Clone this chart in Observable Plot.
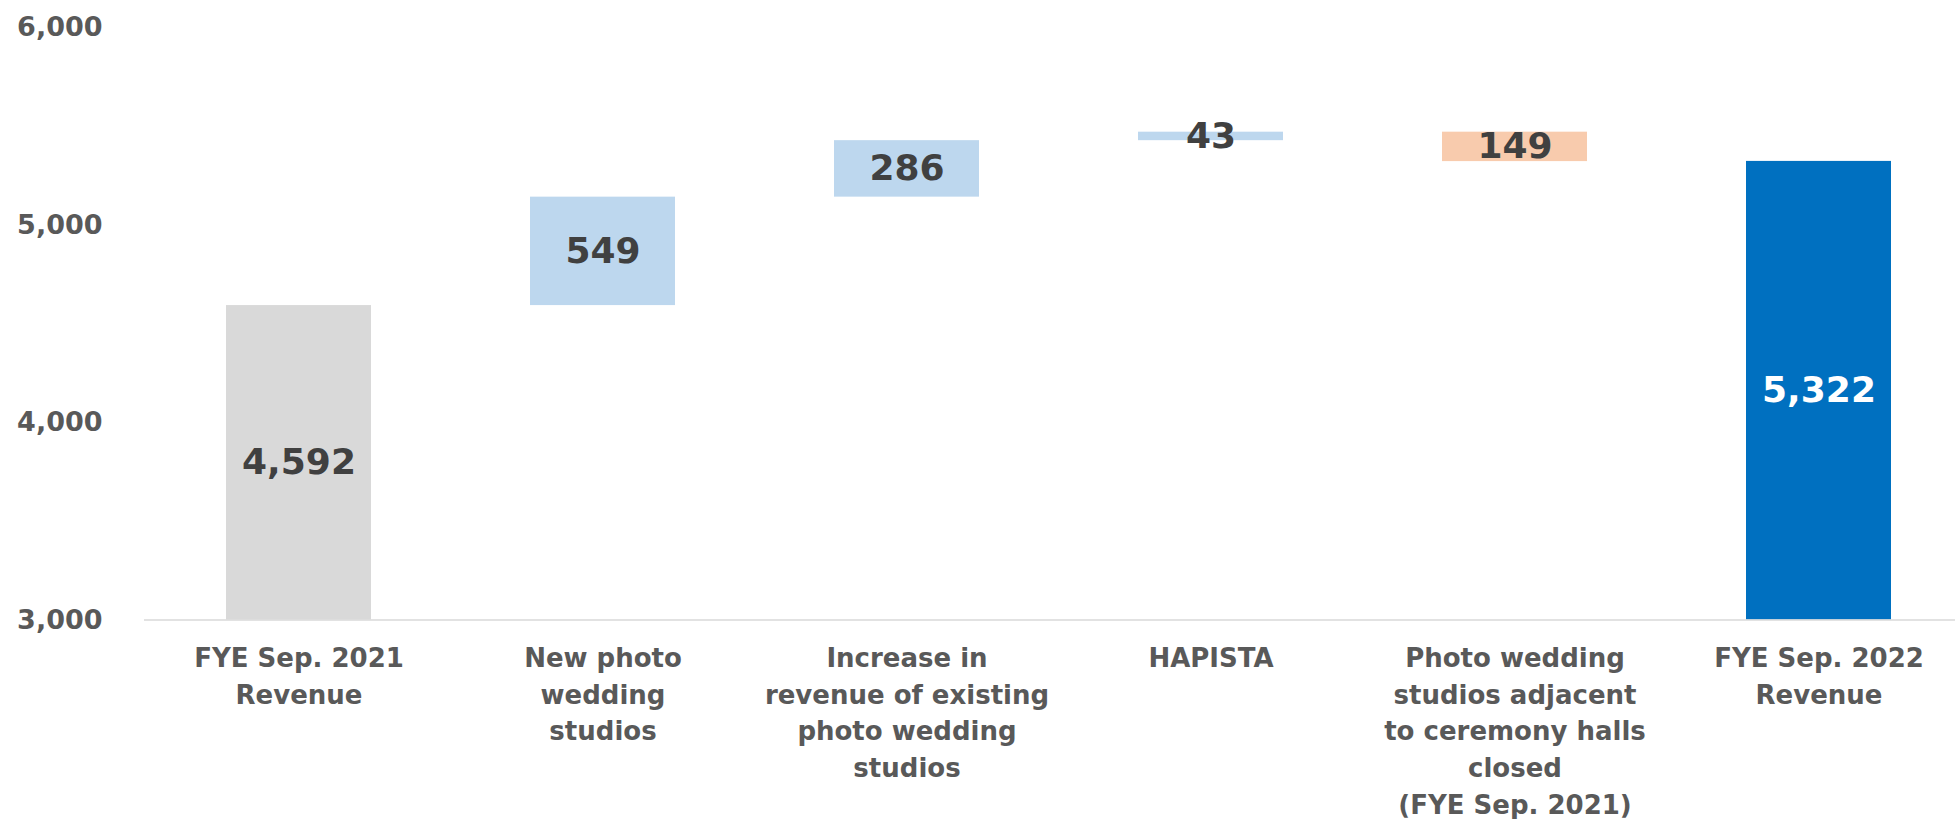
<!DOCTYPE html>
<html><head><meta charset="utf-8">
<script src="https://cdn.jsdelivr.net/npm/d3@7"></script>
<script src="https://cdn.jsdelivr.net/npm/@observablehq/plot@0.6"></script>
<style>html,body{margin:0;padding:0;background:#fff;overflow:hidden}</style>
</head><body><div id="chart"></div>
<script>
const categories = [
  "FYE Sep. 2021\nRevenue",
  "New photo\nwedding\nstudios",
  "Increase in\nrevenue of existing\nphoto wedding\nstudios",
  "HAPISTA",
  "Photo wedding\nstudios adjacent\nto ceremony halls\nclosed\n(FYE Sep. 2021)",
  "FYE Sep. 2022\nRevenue"
];
const values = [4592, 549, 286, 43, -149, 5322];
const kinds = ["start", "increase", "increase", "increase", "decrease", "end"];
const yDomain = [3000, 6000];
const yTicks = [3000, 4000, 5000, 6000];

const fmt = d3.format(",");
let running = 0;
const rows = categories.map((c, i) => {
  let lo, hi;
  if (kinds[i] === "start" || kinds[i] === "end") {
    lo = 0; hi = values[i]; running = values[i];
  } else {
    const s = running; running += values[i];
    lo = Math.min(s, running); hi = Math.max(s, running);
  }
  return {category: c, kind: kinds[i], lo, hi,
    mid: (Math.max(lo, yDomain[0]) + hi) / 2,
    label: fmt(Math.abs(values[i]))};
});

const chart = Plot.plot({
  width: 1955, height: 819,
  marginLeft: 144, marginRight: -17, marginTop: 27, marginBottom: 199.5,
  style: {fontFamily: "DejaVu Sans", fontWeight: "bold", background: "#fff", overflow: "hidden"},
  x: {domain: categories, paddingInner: 0.524, paddingOuter: 0.262, axis: null},
  y: {domain: yDomain, axis: null},
  color: {domain: ["start", "increase", "decrease", "end"], range: ["#d9d9d9", "#bdd7ee", "#f8cbad", "#0070c0"]},
  marks: [
    Plot.barY(rows, {x: "category", y1: "lo", y2: "hi", fill: "kind", clip: true}),
    Plot.ruleY([yDomain[0]], {stroke: "#d9d9d9", strokeWidth: 1.5}),
    Plot.text(rows, {x: "category", y: "mid", text: "label",
      fill: d => d.kind === "end" ? "#ffffff" : "#404040",
      fontSize: 36, fontWeight: "bold"}),
    Plot.axisY({ticks: yTicks, tickFormat: fmt, tickSize: 0, tickPadding: 42,
      fontSize: 27, color: "#595959", label: null}),
    Plot.axisX({tickSize: 0, tickPadding: 21, fontSize: 26, lineHeight: 1.41,
      color: "#595959", label: null})
  ]
});
document.getElementById("chart").appendChild(chart);
</script>
</body></html>
